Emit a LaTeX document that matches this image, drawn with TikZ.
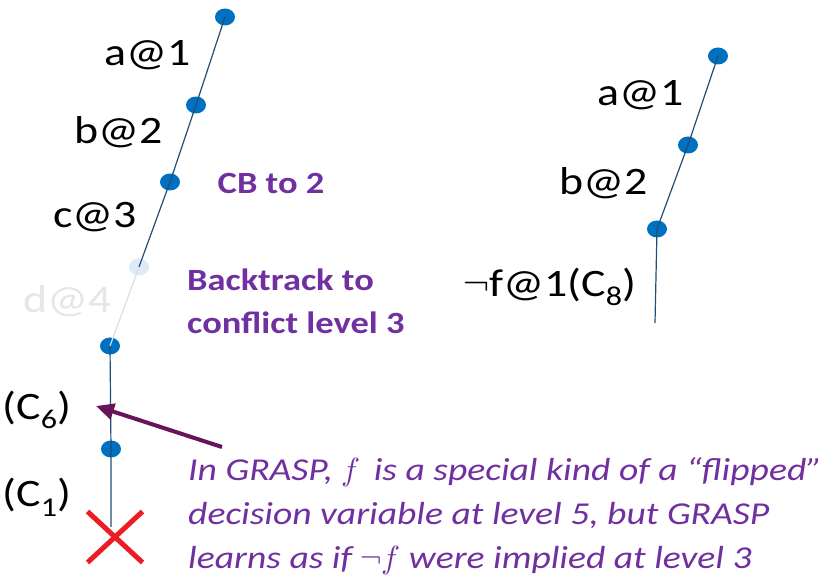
\documentclass[tikz,border=0pt]{standalone}
\usepackage{unicode-math}
\setmainfont{Carlito}[FakeStretch=1.18]
\setmathfont{Latin Modern Math}
\usetikzlibrary{shapes.geometric,shapes.misc,arrows.meta}
\definecolor{dotblue}{RGB}{0,112,192}
\definecolor{navy}{RGB}{31,78,121}
\definecolor{fadeblue}{RGB}{222,235,247}
\definecolor{fadeline}{RGB}{214,224,238}
\definecolor{fadegray}{RGB}{231,230,230}
\definecolor{grasppurple}{RGB}{112,48,160}
\definecolor{plum}{RGB}{104,20,90}
\definecolor{xred}{RGB}{237,28,36}
\begin{document}
\begin{tikzpicture}[line join=bevel,
  dot/.style={ellipse,fill=dotblue,minimum width=20bp,minimum height=17bp,inner sep=0pt},
  lit/.style={font=\fontsize{39}{46}\selectfont,inner sep=0pt},
  note/.style={text=grasppurple,font=\fontsize{31}{43}\selectfont\bfseries,align=left,inner sep=0pt},
  trail/.style={navy,line width=1.2bp},
  ]
\useasboundingbox (0bp,0bp) rectangle (833bp,584bp);
%% conflict trail
\node (l1) at (225bp,567bp) [dot] {};
  \node (l2) at (196bp,479bp) [dot] {};
  \node (l3) at (170bp,402bp) [dot] {};
  \node (l4) at (139bp,317bp) [dot,fill=fadeblue] {};
  \node (l5) at (110bp,238bp) [dot] {};
  \node (l6) at (111bp,135bp) [dot] {};
  \node (x) at (115bp,47bp) [cross out,draw=xred,line width=5bp,minimum width=50bp,minimum height=46bp] {};
  \coordinate (lend) at (111bp,57bp);
  \draw [trail] (l1.center) -- (l2.center) -- (l3.center) -- (l4.center);
  \draw [fadeline,line width=1.2bp] (l4.center) -- (l5.center);
  \draw [trail] (l5.center) -- (l6.center) -- (lend);
  \node (a1) at (148bp,529bp) [lit] {a@1};
  \node (b2) at (119bp,452bp) [lit] {b@2};
  \node (c3) at (95bp,367bp) [lit] {c@3};
  \node (d4) at (68bp,283bp) [lit,text=fadegray] {d@4};
  \node (c6) at (37bp,174bp) [lit] {(C\textsubscript{6})};
  \node (c1) at (37bp,87bp) [lit] {(C\textsubscript{1})};
  \node (cb) at (271bp,401bp) [note] {CB to 2};
  \node (bt) at (187bp,283bp) [note,anchor=west] {Backtrack to\\conflict level 3};
%% learned trail
\node (r1) at (718bp,528bp) [dot] {};
  \node (r2) at (688bp,439bp) [dot] {};
  \node (r3) at (657bp,355bp) [dot] {};
  \coordinate (rend) at (655bp,261bp);
  \draw [trail] (r1.center) -- (r2.center) -- (r3.center) -- (rend);
  \node (ra1) at (641bp,489bp) [lit] {a@1};
  \node (rb2) at (604bp,401bp) [lit] {b@2};
  \node (rf) at (550bp,297bp) [lit] {$\neg$f@1(C\textsubscript{8})};
%
\node (why) at (188bp,68bp) [note,anchor=west,font=\fontsize{32}{44}\selectfont\itshape]
    {In GRASP, $f$\, is a special kind of a “flipped”\\
     decision variable at level 5, but GRASP\\
     learns as if $\neg f$ were implied at level 3};
  \coordinate (tail) at (222bp,137bp);
  \coordinate (tip) at (96bp,178bp);
  \draw [plum,line width=4bp,-{Triangle[length=18bp,width=16bp]}] (tail) -- (tip);
%
\end{tikzpicture}
\end{document}
